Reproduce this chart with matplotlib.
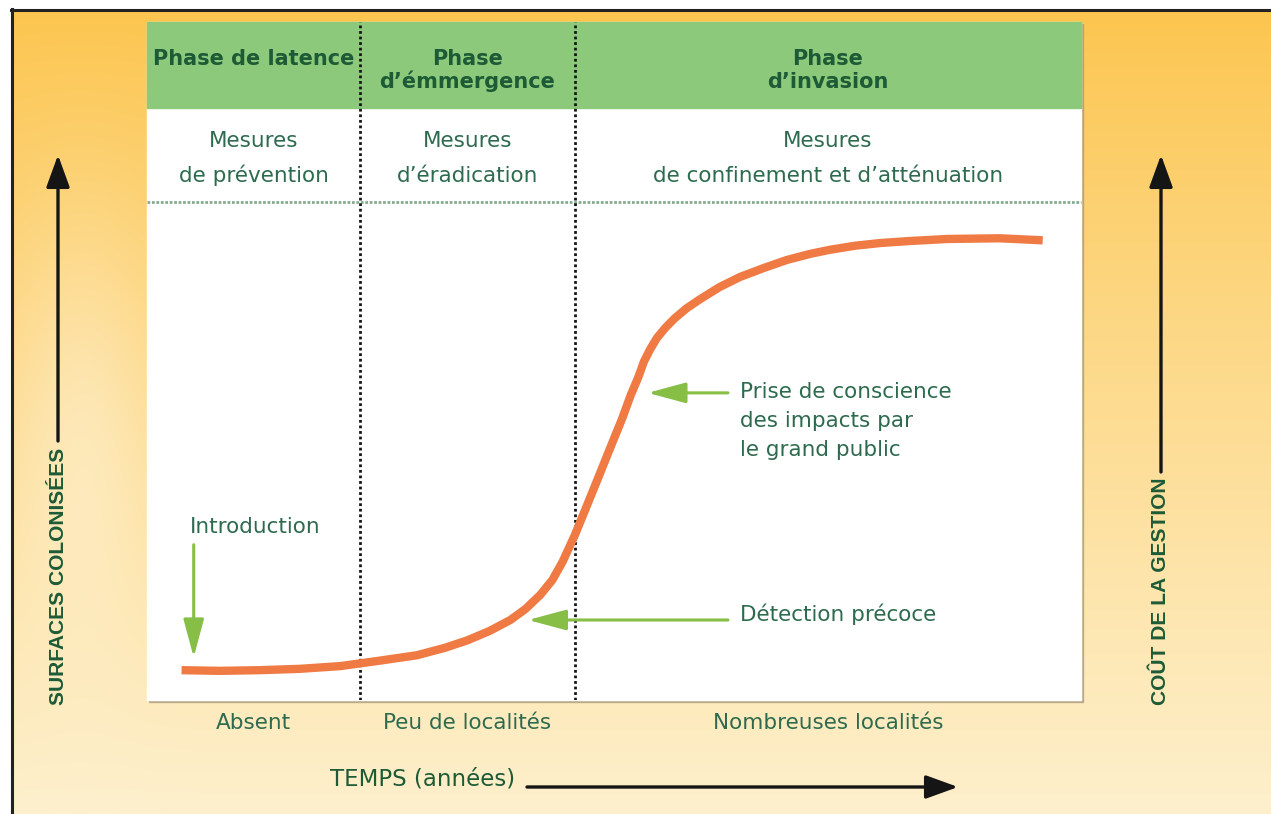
import numpy as np
import matplotlib
matplotlib.use("Agg")
from matplotlib import pyplot as plt, patches, transforms, font_manager

# courbe d'invasion : temps et surface colonisée en % du cadre
temps = [3.7, 7.8, 12.1, 16.4, 20.7, 24.9, 28.9, 31.9, 34.3, 36.7, 38.9, 40.5, 42.1,
         43.4, 44.5, 45.8, 46.9, 48.2, 49.6, 50.9, 51.8, 52.6, 53.2, 53.9, 54.6, 55.5,
         56.5, 57.8, 59.2, 61.3, 63.5, 66.0, 68.5, 71.0, 73.1, 75.8, 78.5, 81.7, 85.7, 91.3, 95.9]
surface = [4.4, 4.3, 4.4, 4.6, 5.0, 5.8, 6.6, 7.7, 8.8, 10.2, 11.8, 13.4, 15.5,
           17.7, 20.4, 24.3, 28.0, 32.4, 37.2, 41.6, 45.0, 47.6, 49.9, 51.8, 53.4, 54.9,
           56.3, 57.8, 59.1, 60.9, 62.4, 63.7, 64.9, 65.8, 66.4, 67.0, 67.4, 67.7, 68.0, 68.1, 67.8]

limites = [22.8, 45.8]
phases = [["Phase de latence"], ["Phase", "d’émmergence"], ["Phase", "d’invasion"]]
mesures = [["Mesures", "de prévention"], ["Mesures", "d’éradication"],
           ["Mesures", "de confinement et d’atténuation"]]
localites = ["Absent", "Peu de localités", "Nombreuses localités"]

# repères sur la courbe (temps, surface)
introduction = (5.0, 6.3)
prise_conscience = (53.6, 45.3)
detection = (40.8, 11.8)

VERT_FONCE = "#1d5a36"
VERT_TEXTE = "#2e6b4e"
VERT_FLECHE = "#86be46"
ORANGE = "#f07a44"
NOIR = "#151515"

noms = {f.name for f in font_manager.fontManager.ttflist}
etroite = "Liberation Sans Narrow" if "Liberation Sans Narrow" in noms else "Liberation Sans"

fig = plt.figure(figsize=(12.71, 8.14), dpi=100, facecolor="white")
bg = fig.add_axes([0, 0, 1, 1])

# fond dégradé orange -> crème, voile clair à gauche
h, w = 805, 1259
yy, xx = np.mgrid[0:h, 0:w]
t = (yy / h) ** 0.9
haut = np.array([252, 197, 78]) / 255
bas = np.array([254, 240, 205]) / 255
img = haut + (bas - haut) * t[..., None]
voile = 0.32 * np.exp(-((xx - 70) / 65) ** 2 - ((yy - 430) / 210) ** 2)
img = img + (1 - img) * voile[..., None]
bg.imshow(img, extent=[12, 1271, 814, 10], aspect="auto", zorder=0)
bg.set_xlim(0, 1271)
bg.set_ylim(814, 0)
bg.set_axis_off()

bg.plot([12, 12], [9, 814], color="#222222", lw=2.2, zorder=1)
bg.plot([11, 1271], [10, 10], color="#222222", lw=2.2, zorder=1)

# cadre blanc + bandeau vert
x0, y0, x1, y1 = 147, 22, 1081, 700
bg.add_patch(patches.Rectangle((x0 + 2, y0 + 2), x1 - x0, y1 - y0, color="#a89a80", alpha=0.7, zorder=1))
bg.add_patch(patches.Rectangle((x0, y0), x1 - x0, y1 - y0, color="white", zorder=2))
bg.add_patch(patches.Rectangle((x0, y0), x1 - x0, 86, color="#8cc97a", zorder=3))
bg.plot([x0, x1], [202, 202], color="#86ab92", lw=2, ls=(0, (1, 0.6)), zorder=3)

ax = fig.add_axes([x0 / 1271, 1 - y1 / 814, (x1 - x0) / 1271, (y1 - y0) / 814])
ax.set_xlim(0, 100)
ax.set_ylim(0, 100)
ax.set_axis_off()
ax.patch.set_visible(False)

ax.vlines(limites, 0, 100, colors=NOIR, lw=2, linestyles=[(0, (1, 1))], zorder=2)
ax.plot(temps, surface, color=ORANGE, lw=6, solid_capstyle="butt", solid_joinstyle="round", zorder=3)

fleche_verte = dict(arrowstyle="-|>,head_length=1.3,head_width=0.35", color=VERT_FLECHE,
                    lw=2.2, shrinkA=0, shrinkB=0, mutation_scale=18)
ax.annotate("", xy=introduction, xytext=(introduction[0], 22.9), arrowprops=fleche_verte)
ax.annotate("", xy=prise_conscience, xytext=(62.2, prise_conscience[1]), arrowprops=fleche_verte)
ax.annotate("", xy=detection, xytext=(62.2, detection[1]), arrowprops=fleche_verte)

# textes des colonnes
colonnes = [0] + limites + [100]
centres = [(a + b) / 2 for a, b in zip(colonnes[:-1], colonnes[1:])]
trans = transforms.blended_transform_factory(ax.transData, bg.transData)
for c, ph, me, lo in zip(centres, phases, mesures, localites):
    for i, ligne in enumerate(ph):
        ax.text(c, 65 + 23 * i, ligne, transform=trans, ha="center", va="baseline",
                fontsize=15, fontweight="bold", color=VERT_FONCE)
    for i, ligne in enumerate(me):
        ax.text(c, 147 + 35 * i, ligne, transform=trans, ha="center", va="baseline",
                fontsize=15.5, color=VERT_TEXTE)
    ax.text(c, 729, lo, transform=trans, ha="center", va="baseline",
            fontsize=15.5, color=VERT_TEXTE, clip_on=False)

bg.text(190, 533, "Introduction", ha="left", va="baseline", fontsize=15.5, color=VERT_TEXTE, zorder=5)
for i, ligne in enumerate(["Prise de conscience", "des impacts par", "le grand public"]):
    bg.text(740, 398 + 29 * i, ligne, ha="left", va="baseline", fontsize=15.5, color=VERT_TEXTE, zorder=5)
bg.text(740, 621, "Détection précoce", ha="left", va="baseline", fontsize=15.5, color=VERT_TEXTE, zorder=5)

# axes fléchés
fleche_noire = dict(arrowstyle="-|>,head_length=1.1,head_width=0.4", color=NOIR,
                    lw=2.4, shrinkA=0, shrinkB=0, mutation_scale=18)
bg.text(330, 785, "TEMPS (années)", ha="left", va="baseline", fontsize=16.5, color=VERT_FONCE)
bg.annotate("", xy=(958, 787), xytext=(527, 787), arrowprops=fleche_noire)
bg.annotate("", xy=(58, 155), xytext=(58, 441), arrowprops=fleche_noire)
bg.annotate("", xy=(1161, 155), xytext=(1161, 472), arrowprops=fleche_noire)

renderer = fig.canvas.get_renderer()
for x, texte, longueur in [(59, "SURFACES COLONISÉES", 258), (1161, "COÛT DE LA GESTION", 228)]:
    txt = bg.text(x, 705, texte, rotation=90, ha="center", va="bottom", fontsize=18,
                  fontweight="bold", family=etroite, color=VERT_FONCE)
    bb = txt.get_window_extent(renderer)
    txt.set_fontsize(18 * longueur / bb.height)

fig.savefig("out.png", dpi=100)
